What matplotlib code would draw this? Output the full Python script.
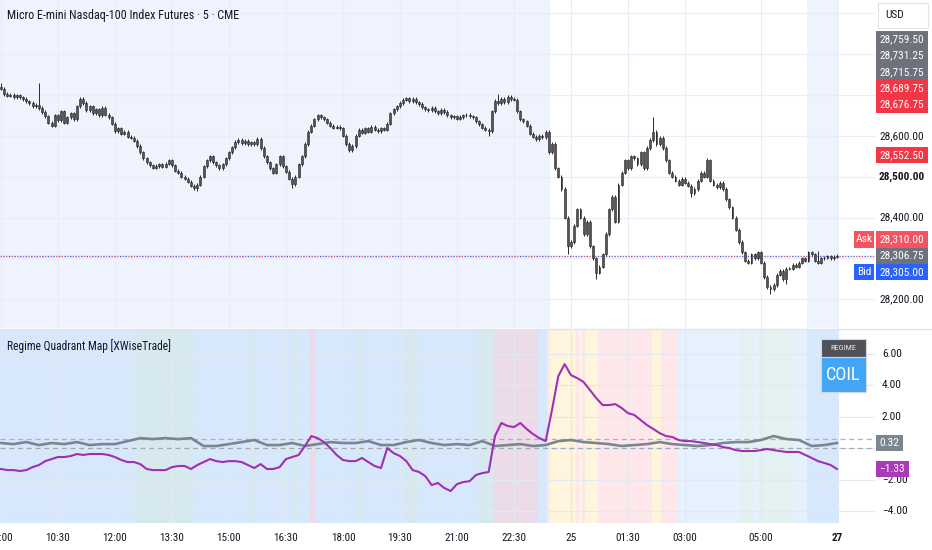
import numpy as np
import matplotlib
matplotlib.use("Agg")
import matplotlib.pyplot as plt
from matplotlib.patches import Rectangle
from matplotlib.lines import Line2D
from matplotlib import font_manager

# pick a narrow family if one exists, otherwise Liberation Sans
_names = {f.name for f in font_manager.fontManager.ttflist}
FONT = "Liberation Sans"
for cand in ["Liberation Sans Narrow", "Roboto Condensed", "Open Sans Condensed", "Noto Sans Condensed"]:
    if cand in _names:
        FONT = cand
        break
plt.rcParams["font.family"] = [FONT, "DejaVu Sans"]

# ---------------- data ----------------
title = "Micro E-mini Nasdaq-100 Index Futures · 5 · CME"
ind_title = "Regime Quadrant Map [XWiseTrade]"

open0 = 28720.0
closes = [
    28715, 28702, 28698, 28700, 28695, 28699, 28694, 28690, 28684, 28680, 28672, 28676, 28668, 28658, 28648, 28632,
    28625, 28650, 28638, 28660,
    28632, 28645, 28655, 28640,
    28672, 28690,
    28680, 28662, 28672, 28655, 28665, 28650,
    28668, 28652, 28645,
    28630, 28612, 28618,
    28605, 28610, 28598, 28595, 28588,
    28575, 28560, 28545,
    28535, 28528, 28522, 28526, 28530, 28524,
    28532, 28540, 28528,
    28515, 28510, 28500, 28495, 28488,
    28478, 28472, 28480,
    28500, 28525, 28540, 28550, 28535,
    28528, 28520, 28530,
    28545, 28560, 28572,
    28585, 28590, 28582, 28588, 28580, 28584,
    28580, 28592, 28570, 28550,
    28535, 28520, 28510,
    28530, 28550, 28525,
    28512, 28495, 28482,
    28500, 28530, 28550,
    28580, 28610, 28625,
    28640, 28650, 28645, 28640, 28632,
    28625, 28620, 28622, 28618, 28600,
    28580, 28565, 28575,
    28600, 28615, 28608,
    28618, 28610, 28622, 28615, 28612, 28618, 28615,
    28630, 28655, 28665,
    28672, 28680, 28688, 28692, 28685,
    28690, 28682, 28678, 28670,
    28665, 28662, 28668, 28660, 28656, 28664, 28658,
    28650, 28645, 28648, 28642, 28646, 28650,
    28652, 28648, 28645,
    28635, 28628, 28620,
    28615, 28612,
    28660, 28685, 28680,
    28690, 28682, 28695, 28690, 28688,
    28660, 28640, 28635,
    28625, 28605, 28598,
    28592, 28600, 28596,
    28610, 28560,
    28580, 28520,
    28500, 28470,
    28400, 28330,
    28340, 28380, 28420,
    28400, 28360, 28390,
    28330, 28300,
    28265, 28280, 28310,
    28360, 28420,
    28450, 28390, 28480,
    28510, 28540, 28520, 28550,
    28545, 28530, 28560, 28520,
    28570, 28590, 28610,
    28580, 28595, 28570,
    28540, 28510, 28500,
    28490, 28480, 28495, 28485, 28478,
    28460, 28470,
    28490, 28510, 28500,
    28540,
    28490, 28480,
    28475, 28485, 28470,
    28445, 28425, 28400,
    28370, 28340, 28315,
    28295, 28290, 28310,
    28300, 28315, 28290,
    28255, 28230, 28225, 28235,
    28260, 28270, 28250, 28275,
    28275, 28285, 28280,
    28290, 28300, 28295,
    28315, 28310,
    28295, 28290, 28300,
    28302, 28305, 28300, 28304, 28306.75,
]
# notable wick extremes (bar index -> price)
spike_highs = {0: 28729, 12: 28730, 81: 28598, 157: 28702, 206: 28645, 223: 28545, 258: 28318}
spike_lows = {62: 28465, 92: 28472, 154: 28600, 179: 28312, 188: 28250, 218: 28450, 243: 28213, 248: 28238}

last_price = 28306.75
ask_price = 28310.00
bid_price = 28305.00
scale_labels = [28759.50, 28731.25, 28715.75, 28689.75, 28676.75, 28552.50]
scale_label_kind = ["gray", "gray", "gray", "red", "red", "red"]
price_ticks = [28200, 28300, 28400, 28500, 28600, 28700, 28800, 28900]

# extended-hours shading (bar ranges)
ext_sessions = [(0, 173), (255, 264)]

time_tick_bars = [0, 18, 36, 54, 72, 90, 108, 126, 144, 162, 180, 198, 216, 240, 264]
time_tick_labels = ["09:00", "10:30", "12:00", "13:30", "15:00", "16:30", "18:00", "19:30",
                    "21:00", "22:30", "25", "01:30", "03:00", "05:00", "27"]

# oscillator (purple), sampled every 2 bars
osc_purple = [
    -1.33, -1.40, -1.40, -1.46, -1.40, -1.21, -1.08, -0.83, -0.70, -0.57,
    -0.57, -0.51, -0.38, -0.44, -0.38, -0.38, -0.38, -0.44, -0.57, -0.76,
    -0.89, -0.89, -1.02, -1.33, -1.40, -1.40, -1.40, -1.21, -1.14, -1.14,
    -1.33, -1.08, -0.89, -0.70, -0.83, -0.89, -0.83, -0.83, -0.89, -1.08,
    -1.27, -1.02, -1.33, -1.33, -1.21, -0.70, -0.57, -0.44, 0.13, 0.76,
    0.63, 0.38, 0.00, -0.44, -0.76, -0.83, -0.83, -0.63, -0.89, -1.14,
    -1.27, 0.00, -0.32, -0.51, -0.83, -1.40, -1.52, -1.78, -2.35, -2.22,
    -2.54, -2.73, -2.29, -2.16, -2.10, -1.71, -1.59, -1.52, 0.76, 1.59,
    1.40, 1.33, 1.59, 1.21, 0.89, 0.63, 0.44, 2.41, 4.57, 5.33,
    4.63, 4.44, 4.19, 3.68, 3.17, 2.73, 2.73, 2.79, 2.54, 2.22,
    2.10, 1.78, 1.46, 1.21, 0.95, 0.76, 0.70, 0.51, 0.44, 0.44,
    0.38, 0.32, 0.25, 0.19, 0.06, 0.00, -0.13, -0.19, -0.19, -0.19,
    -0.13, -0.06, -0.13, -0.19, -0.25, -0.25, -0.25, -0.44, -0.63, -0.83,
    -0.95, -1.08, -1.33,
]
# second line (gray), sampled every 4 bars
osc_gray = [
    0.32, 0.25, 0.38, 0.19, 0.32, 0.25, 0.38, 0.19, 0.25, 0.25,
    0.44, 0.63, 0.57, 0.63, 0.57, 0.63, 0.13, 0.13, 0.25, 0.38,
    0.51, 0.19, 0.19, 0.32, 0.13, 0.25, 0.38, 0.32, 0.32, 0.44,
    0.19, 0.19, 0.38, 0.51, 0.32, 0.19, 0.25, 0.19, 0.44, 0.13,
    0.19, 0.25, 0.13, 0.19, 0.44, 0.51, 0.38, 0.32, 0.25, 0.13,
    0.19, 0.25, 0.38, 0.25, 0.19, 0.13, 0.19, 0.32, 0.38, 0.38,
    0.51, 0.76, 0.57, 0.51, 0.13, 0.19, 0.32,
]
ind_ticks = [-4, -2, 0, 2, 4, 6]
ref_levels = [0.55, 0.0]

# regime background runs: (regime, number of bars)
regime_runs = [
    ("COIL", 43), ("DRIFT", 18), ("COIL", 18), ("DRIFT", 2), ("COIL", 11), ("DRIFT", 2), ("COIL", 4),
    ("SQUEEZE", 2), ("COIL", 13), ("DRIFT", 2), ("COIL", 13), ("DRIFT", 4), ("COIL", 19), ("DRIFT", 5),
    ("SQUEEZE", 14), ("COIL", 3), ("FADE", 1), ("EXPAND", 8), ("FADE", 1), ("EXPAND", 1), ("FADE", 1),
    ("EXPAND", 4), ("FADE", 17), ("EXPAND", 3), ("FADE", 5), ("CALM", 20), ("BUILD", 4), ("CALM", 2),
    ("BUILD", 11), ("CALM", 4), ("COIL", 10),
]
current_regime = "COIL"
regime_colors = {
    "COIL": "#d7e7fc", "DRIFT": "#d6e9ef", "SQUEEZE": "#ecdce9", "FADE": "#fde7ea",
    "EXPAND": "#fff4dc", "CALM": "#e5f2fd", "BUILD": "#e3f1f1",
}

# ---------------- figure ----------------
W, H = 932, 550
fig = plt.figure(figsize=(W / 100, H / 100), dpi=100)
fig.patch.set_facecolor("white")
TXT = "#131722"
renderer = fig.canvas.get_renderer()


def fit_size(s, target_px, cap, weight="normal"):
    t = fig.text(0, 0, s, fontsize=10, fontweight=weight)
    w = t.get_window_extent(renderer=renderer).width
    t.remove()
    return min(cap, 10 * target_px / w * 1.05)


FS = fit_size("28,600.00", 42, 8.3)
FS_TITLE = fit_size(title, 224, 8.7)
FS_IND = fit_size(ind_title, 165, 8.4)
FS_X = fit_size("10:30", 23, 8.0)
FS_COIL = fit_size("COIL", 33, 15)
FS_REG = fit_size("REGIME", 27, 6.0)


def frect(x0, y0, x1, y1):
    return [x0 / W, 1 - y1 / H, (x1 - x0) / W, (y1 - y0) / H]


ax1 = fig.add_axes(frect(0, 0, 875, 328))
ax2 = fig.add_axes(frect(0, 329, 875, 523))
XMIN, XMAX = -0.3, 276.0
for ax in (ax1, ax2):
    ax.set_xlim(XMIN, XMAX)
    ax.set_facecolor("white")
    for s in ax.spines.values():
        s.set_visible(False)
    ax.set_yticks([])
ax1.set_xticks([])
ax1.set_ylim(28130, 28932)
ax2.set_ylim(-4.76, 7.56)

# ---- price panel ----
for s, e in ext_sessions:
    ax1.axvspan(s - 0.5, e + 0.5, color="#eef3fe", lw=0, zorder=0)
for t in time_tick_bars:
    ax1.axvline(t, color="#e9edf5", lw=0.8, zorder=0.5)
    ax2.axvline(t, color="#e3e9f1", lw=0.8, zorder=0.6)
for p in price_ticks:
    ax1.axhline(p, color="#e9edf5", lw=0.8, zorder=0.5)

n = len(closes)
x = np.arange(n)
c = np.array(closes, dtype=float)
o = np.concatenate([[open0], c[:-1]])
hi = np.maximum(o, c) + 4
lo = np.minimum(o, c) - 4
for k, v in spike_highs.items():
    hi[k] = max(hi[k], v)
for k, v in spike_lows.items():
    lo[k] = min(lo[k], v)
ax1.vlines(x, lo, hi, color="#2a2a2a", lw=0.7, zorder=3)
body_h = np.maximum(np.abs(c - o), 1.5)
ax1.bar(x, body_h, bottom=np.minimum(o, c), width=0.62, color="#555555",
        edgecolor="#222222", lw=0.4, zorder=4)

ax1.axhline(last_price, color="#f7525f", lw=1.0, ls=(0, (1, 3)), zorder=2)
ax1.axhline(last_price, color="#2962ff", lw=1.0, ls=(2, (1, 3)), zorder=2)

# ---- indicator panel ----
start = -0.5
for reg, nb in regime_runs:
    ax2.axvspan(start, start + nb, color=regime_colors[reg], lw=0, zorder=0)
    start += nb
for v in ind_ticks:
    ax2.axhline(v, color="#e3e9f1", lw=0.8, zorder=0.6)
ax2.axhline(ref_levels[0], color="#cf9ad8", lw=0.9, ls=(0, (4, 3)), zorder=1)
ax2.axhline(ref_levels[1], color="#a3a9b3", lw=0.9, ls=(0, (4, 3)), zorder=1)

xg = np.linspace(0, n - 1, len(osc_gray))
xp = np.linspace(0, n - 1, len(osc_purple))
ax2.plot(xg, osc_gray, color="#7a868d", lw=1.9, zorder=2.5, solid_joinstyle="round")
ax2.plot(xp, osc_purple, color="#a12fb2", lw=1.5, zorder=3, solid_joinstyle="round")

ax2.set_xticks(time_tick_bars)
ax2.set_xticklabels(time_tick_labels)
ax2.tick_params(axis="x", length=0, pad=7, labelsize=FS_X, labelcolor=TXT)
for lab in ax2.get_xticklabels():
    if lab.get_text() == "27":
        lab.set_fontweight("bold")

fig.canvas.draw()


def py(ax, v):
    return H - ax.transData.transform((0, v))[1]


def fbox(x0, x1, y0, y1, fc, ec="none", lw=0, z=5):
    fig.add_artist(Rectangle((x0 / W, 1 - y1 / H), (x1 - x0) / W, (y1 - y0) / H,
                             transform=fig.transFigure, facecolor=fc, edgecolor=ec, lw=lw, zorder=z))


def ftext(xp_, yp_, s, **kw):
    kw.setdefault("zorder", 7)
    fig.text(xp_ / W, 1 - yp_ / H, s, **kw)


BH = 16.3
occupied = []
# USD box
fbox(878, 928, 3, 28, "white", ec="#e0e3eb", lw=0.8)
ftext(885, 15.5, "USD", ha="left", va="center", fontsize=FS, color=TXT)
occupied.append((3, 28))

# stacked scale labels (pushed upward when overlapping)
kind_col = {"gray": "#6f727d", "red": "#f23645"}
order = sorted(range(len(scale_labels)), key=lambda i: -py(ax1, scale_labels[i]))
prev = None
for i in order:
    yc = py(ax1, scale_labels[i])
    if prev is not None and yc > prev - BH:
        yc = prev - BH
    prev = yc
    fbox(876, 928, yc - BH / 2, yc + BH / 2, kind_col[scale_label_kind[i]])
    ftext(902, yc, f"{scale_labels[i]:,.2f}", ha="center", va="center", fontsize=FS, color="white")
    occupied.append((yc - BH / 2, yc + BH / 2))

# last / ask / bid
yl = py(ax1, last_price)
for val, yc, col in [(ask_price, yl - BH, "#f7525f"), (last_price, yl, "#6f727d"), (bid_price, yl + BH, "#2962ff")]:
    fbox(876, 928, yc - BH / 2, yc + BH / 2, col)
    ftext(902, yc, f"{val:,.2f}", ha="center", va="center", fontsize=FS, color="white")
    occupied.append((yc - BH / 2, yc + BH / 2))
fbox(854, 874, yl - BH - BH / 2, yl - BH / 2, "#f7525f")
ftext(864, yl - BH, "Ask", ha="center", va="center", fontsize=FS, color="white")
fbox(854, 874, yl + BH / 2, yl + BH + BH / 2, "#2962ff")
ftext(864, yl + BH, "Bid", ha="center", va="center", fontsize=FS, color="white")

for p in price_ticks:
    yc = py(ax1, p)
    if any(a - 6 < yc < b + 6 for a, b in occupied):
        continue
    ftext(902, yc, f"{p:,.2f}", ha="center", va="center", fontsize=FS, color=TXT,
          fontweight="bold" if p % 500 == 0 else "normal")

# indicator scale: value badges first, tick labels hidden where a badge covers them
ind_occupied = []
for val, col in [(osc_gray[-1], "#7b878e"), (osc_purple[-1], "#a93bb8")]:
    yc = py(ax2, val)
    s = f"{val:.2f}".replace("-", "\u2212")
    w = len(s) * 5.3 + 6
    fbox(876, 876 + w, yc - 8, yc + 8, col, z=8)
    ftext(876 + w / 2, yc, s, ha="center", va="center", fontsize=FS, color="white", zorder=9)
    ind_occupied.append((yc - 8, yc + 8))
for v in ind_ticks:
    yc = py(ax2, v)
    if any(a - 1 < yc < b + 1 for a, b in ind_occupied):
        continue
    ftext(882, yc, f"{v:.2f}".replace("-", "\u2212"), ha="left", va="center", fontsize=FS, color=TXT)

# regime badge
fbox(821, 866, 339, 357, "#505257", ec="#d0d8e2", lw=0.8, z=8)
ftext(843.5, 348, "REGIME", ha="center", va="center", fontsize=FS_REG, color="#e8e8e8", zorder=9)
fbox(821, 866, 357, 392, "#42a5f5", ec="#d0d8e2", lw=0.8, z=8)
ftext(843.5, 375, current_regime, ha="center", va="center", fontsize=FS_COIL, color="white", zorder=9)

# titles
ftext(7, 15, title, ha="left", va="center", fontsize=FS_TITLE, color=TXT)
ftext(7, 346, ind_title, ha="left", va="center", fontsize=FS_IND, color=TXT)

# separator
fig.add_artist(Line2D([0, 1], [1 - 328.5 / H] * 2, transform=fig.transFigure, color="#e0e3eb", lw=1.0, zorder=6))

fig.savefig("out.png", dpi=100, facecolor="white")
